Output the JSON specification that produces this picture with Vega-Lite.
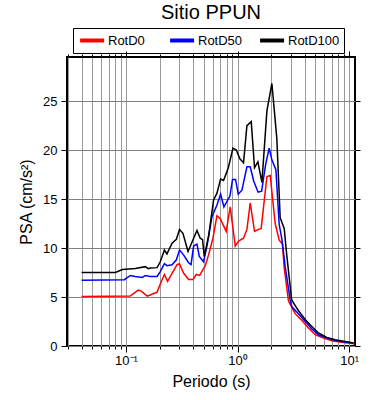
{
  "$schema": "https://vega.github.io/schema/vega-lite/v6.json",
  "autosize": "none",
  "padding": {"left": 67, "top": 57, "right": 35, "bottom": 54},
  "width": 288,
  "height": 289,
  "title": {"text": "Sitio PPUN", "fontSize": 20, "font": "Liberation Sans", "fontWeight": "normal", "anchor": "middle", "frame": "group", "baseline": "alphabetic", "offset": -11},
  "config": {
    "font": "Liberation Sans",
    "view": {"stroke": "#000000", "strokeWidth": 2},
    "axis": {"labelFont": "Liberation Sans", "titleFont": "Liberation Sans", "labelColor": "#000", "titleColor": "#000", "tickColor": "#000", "titleFontWeight": "normal"}
  },
  "data": {"values": [
    {"T":0.04,"PSA":5.05,"c":"RotD0"},{"T":0.109,"PSA":5.1,"c":"RotD0"},{"T":0.129,"PSA":5.7,"c":"RotD0"},{"T":0.137,"PSA":5.6,"c":"RotD0"},{"T":0.155,"PSA":5.1,"c":"RotD0"},{"T":0.165,"PSA":5.2,"c":"RotD0"},{"T":0.19,"PSA":5.5,"c":"RotD0"},{"T":0.206,"PSA":6.5,"c":"RotD0"},{"T":0.221,"PSA":7.3,"c":"RotD0"},{"T":0.236,"PSA":6.6,"c":"RotD0"},{"T":0.264,"PSA":7.6,"c":"RotD0"},{"T":0.287,"PSA":8.3,"c":"RotD0"},{"T":0.302,"PSA":8.4,"c":"RotD0"},{"T":0.328,"PSA":7.45,"c":"RotD0"},{"T":0.364,"PSA":6.8,"c":"RotD0"},{"T":0.399,"PSA":6.8,"c":"RotD0"},{"T":0.427,"PSA":7.3,"c":"RotD0"},{"T":0.457,"PSA":7.2,"c":"RotD0"},{"T":0.49,"PSA":7.8,"c":"RotD0"},{"T":0.514,"PSA":8.2,"c":"RotD0"},{"T":0.55,"PSA":9.3,"c":"RotD0"},{"T":0.602,"PSA":11.0,"c":"RotD0"},{"T":0.654,"PSA":13.3,"c":"RotD0"},{"T":0.7,"PSA":13.0,"c":"RotD0"},{"T":0.792,"PSA":11.7,"c":"RotD0"},{"T":0.86,"PSA":14.2,"c":"RotD0"},{"T":0.954,"PSA":10.2,"c":"RotD0"},{"T":1.021,"PSA":10.7,"c":"RotD0"},{"T":1.132,"PSA":11.0,"c":"RotD0"},{"T":1.214,"PSA":11.9,"c":"RotD0"},{"T":1.299,"PSA":14.6,"c":"RotD0"},{"T":1.42,"PSA":11.7,"c":"RotD0"},{"T":1.542,"PSA":11.9,"c":"RotD0"},{"T":1.63,"PSA":12.0,"c":"RotD0"},{"T":1.834,"PSA":17.3,"c":"RotD0"},{"T":1.963,"PSA":17.4,"c":"RotD0"},{"T":2.176,"PSA":12.5,"c":"RotD0"},{"T":2.363,"PSA":10.8,"c":"RotD0"},{"T":2.529,"PSA":10.4,"c":"RotD0"},{"T":2.62,"PSA":8.0,"c":"RotD0"},{"T":2.863,"PSA":4.6,"c":"RotD0"},{"T":3.287,"PSA":3.3,"c":"RotD0"},{"T":3.775,"PSA":2.6,"c":"RotD0"},{"T":4.324,"PSA":1.84,"c":"RotD0"},{"T":4.965,"PSA":1.15,"c":"RotD0"},{"T":5.892,"PSA":0.8,"c":"RotD0"},{"T":7.007,"PSA":0.54,"c":"RotD0"},{"T":8.614,"PSA":0.37,"c":"RotD0"},{"T":11.17,"PSA":0.23,"c":"RotD0"},
    {"T":0.04,"PSA":6.7,"c":"RotD50"},{"T":0.0968,"PSA":6.77,"c":"RotD50"},{"T":0.1094,"PSA":7.2,"c":"RotD50"},{"T":0.1213,"PSA":7.1,"c":"RotD50"},{"T":0.14,"PSA":7.0,"c":"RotD50"},{"T":0.149,"PSA":7.2,"c":"RotD50"},{"T":0.165,"PSA":7.1,"c":"RotD50"},{"T":0.19,"PSA":7.1,"c":"RotD50"},{"T":0.203,"PSA":7.6,"c":"RotD50"},{"T":0.221,"PSA":8.4,"c":"RotD50"},{"T":0.233,"PSA":8.2,"c":"RotD50"},{"T":0.259,"PSA":8.3,"c":"RotD50"},{"T":0.283,"PSA":8.8,"c":"RotD50"},{"T":0.302,"PSA":9.8,"c":"RotD50"},{"T":0.328,"PSA":9.3,"c":"RotD50"},{"T":0.364,"PSA":8.5,"c":"RotD50"},{"T":0.383,"PSA":8.3,"c":"RotD50"},{"T":0.404,"PSA":10.2,"c":"RotD50"},{"T":0.433,"PSA":10.4,"c":"RotD50"},{"T":0.454,"PSA":9.15,"c":"RotD50"},{"T":0.496,"PSA":8.6,"c":"RotD50"},{"T":0.532,"PSA":10.2,"c":"RotD50"},{"T":0.59,"PSA":13.2,"c":"RotD50"},{"T":0.654,"PSA":14.4,"c":"RotD50"},{"T":0.705,"PSA":15.5,"c":"RotD50"},{"T":0.755,"PSA":14.2,"c":"RotD50"},{"T":0.855,"PSA":15.3,"c":"RotD50"},{"T":0.902,"PSA":17.0,"c":"RotD50"},{"T":0.96,"PSA":17.0,"c":"RotD50"},{"T":1.015,"PSA":15.5,"c":"RotD50"},{"T":1.095,"PSA":15.9,"c":"RotD50"},{"T":1.214,"PSA":18.3,"c":"RotD50"},{"T":1.299,"PSA":18.3,"c":"RotD50"},{"T":1.4,"PSA":16.8,"c":"RotD50"},{"T":1.53,"PSA":15.7,"c":"RotD50"},{"T":1.645,"PSA":15.8,"c":"RotD50"},{"T":1.79,"PSA":18.6,"c":"RotD50"},{"T":1.922,"PSA":20.2,"c":"RotD50"},{"T":2.03,"PSA":19.0,"c":"RotD50"},{"T":2.208,"PSA":18.0,"c":"RotD50"},{"T":2.363,"PSA":12.4,"c":"RotD50"},{"T":2.498,"PSA":10.9,"c":"RotD50"},{"T":2.675,"PSA":8.1,"c":"RotD50"},{"T":2.965,"PSA":4.7,"c":"RotD50"},{"T":3.071,"PSA":4.0,"c":"RotD50"},{"T":3.461,"PSA":3.37,"c":"RotD50"},{"T":4.041,"PSA":2.5,"c":"RotD50"},{"T":4.639,"PSA":1.75,"c":"RotD50"},{"T":5.315,"PSA":1.15,"c":"RotD50"},{"T":6.318,"PSA":0.82,"c":"RotD50"},{"T":7.5,"PSA":0.57,"c":"RotD50"},{"T":9.218,"PSA":0.4,"c":"RotD50"},{"T":10.94,"PSA":0.3,"c":"RotD50"},
    {"T":0.04,"PSA":7.5,"c":"RotD100"},{"T":0.0803,"PSA":7.5,"c":"RotD100"},{"T":0.0929,"PSA":7.8,"c":"RotD100"},{"T":0.1213,"PSA":7.9,"c":"RotD100"},{"T":0.149,"PSA":8.1,"c":"RotD100"},{"T":0.1585,"PSA":7.9,"c":"RotD100"},{"T":0.165,"PSA":7.96,"c":"RotD100"},{"T":0.19,"PSA":8.0,"c":"RotD100"},{"T":0.203,"PSA":8.6,"c":"RotD100"},{"T":0.221,"PSA":9.8,"c":"RotD100"},{"T":0.233,"PSA":9.4,"c":"RotD100"},{"T":0.259,"PSA":10.5,"c":"RotD100"},{"T":0.283,"PSA":10.9,"c":"RotD100"},{"T":0.302,"PSA":11.9,"c":"RotD100"},{"T":0.324,"PSA":11.5,"c":"RotD100"},{"T":0.36,"PSA":9.65,"c":"RotD100"},{"T":0.399,"PSA":10.85,"c":"RotD100"},{"T":0.433,"PSA":11.8,"c":"RotD100"},{"T":0.463,"PSA":11.0,"c":"RotD100"},{"T":0.486,"PSA":10.85,"c":"RotD100"},{"T":0.503,"PSA":9.15,"c":"RotD100"},{"T":0.55,"PSA":11.2,"c":"RotD100"},{"T":0.61,"PSA":14.9,"c":"RotD100"},{"T":0.654,"PSA":15.6,"c":"RotD100"},{"T":0.705,"PSA":17.05,"c":"RotD100"},{"T":0.749,"PSA":16.9,"c":"RotD100"},{"T":0.81,"PSA":17.9,"c":"RotD100"},{"T":0.831,"PSA":18.3,"c":"RotD100"},{"T":0.91,"PSA":20.2,"c":"RotD100"},{"T":0.975,"PSA":20.0,"c":"RotD100"},{"T":1.05,"PSA":19.1,"c":"RotD100"},{"T":1.132,"PSA":18.7,"c":"RotD100"},{"T":1.214,"PSA":22.5,"c":"RotD100"},{"T":1.327,"PSA":22.9,"c":"RotD100"},{"T":1.42,"PSA":18.2,"c":"RotD100"},{"T":1.523,"PSA":18.8,"c":"RotD100"},{"T":1.654,"PSA":16.7,"c":"RotD100"},{"T":1.834,"PSA":24.0,"c":"RotD100"},{"T":2.033,"PSA":26.8,"c":"RotD100"},{"T":2.25,"PSA":21.2,"c":"RotD100"},{"T":2.412,"PSA":13.1,"c":"RotD100"},{"T":2.62,"PSA":12.0,"c":"RotD100"},{"T":2.77,"PSA":9.15,"c":"RotD100"},{"T":3.058,"PSA":4.7,"c":"RotD100"},{"T":3.174,"PSA":4.4,"c":"RotD100"},{"T":3.519,"PSA":3.6,"c":"RotD100"},{"T":4.041,"PSA":2.7,"c":"RotD100"},{"T":4.639,"PSA":2.0,"c":"RotD100"},{"T":5.315,"PSA":1.33,"c":"RotD100"},{"T":6.318,"PSA":0.88,"c":"RotD100"},{"T":7.5,"PSA":0.64,"c":"RotD100"},{"T":9.218,"PSA":0.47,"c":"RotD100"},{"T":10.94,"PSA":0.3,"c":"RotD100"}
  ]},
  "layer": [
    {
      "mark": {"type": "line", "strokeWidth": 1.5, "clip": true},
      "encoding": {
        "x": {"field": "T", "type": "quantitative",
          "scale": {"type": "log", "domain": [0.0296, 11.3], "nice": false, "zero": false},
          "axis": {"orient": "bottom", "title": "Periodo (s)", "titleFontSize": 16, "titlePadding": 6,
            "values": [0.03,0.04,0.05,0.06,0.07,0.08,0.09,0.1,0.2,0.3,0.4,0.5,0.6,0.7,0.8,0.9,1,2,3,4,5,6,7,8,9,10],
            "labelExpr": "datum.value == 0.1 ? '10⁻¹' : datum.value == 1 ? '10⁰' : datum.value == 10 ? '10¹' : ''",
            "labelOverlap": false, "labelFlush": false, "labelBound": false, "labelFontSize": 13, "labelPadding": 2,
            "tickSize": {"condition": {"test": "datum.value == 0.1 || datum.value == 1 || datum.value == 10", "value": 6}, "value": 3},
            "domain": false, "grid": true, "gridColor": "#999999", "gridWidth": 1, "gridOpacity": 1}},
        "y": {"field": "PSA", "type": "quantitative",
          "scale": {"domain": [0, 29.5], "nice": false},
          "axis": {"orient": "left", "title": "PSA (cm/s²)", "titleFontSize": 16, "values": [0,5,10,15,20,25],
            "labelFontSize": 13, "tickSize": 6, "labelPadding": 4, "titlePadding": 8, "domain": false,
            "grid": true, "gridColor": "#808080", "gridWidth": 1, "gridOpacity": 1}},
        "color": {"field": "c", "type": "nominal",
          "scale": {"domain": ["RotD0", "RotD50", "RotD100"], "range": ["#ff0000", "#0000ff", "#000000"]},
          "legend": {"orient": "none", "legendX": 6, "legendY": -29, "direction": "horizontal", "columns": 3, "title": null,
            "strokeColor": "#000000", "padding": 4.5, "labelFontSize": 13, "labelFont": "Liberation Sans", "labelColor": "#000",
            "symbolType": "M-0.9,0H3.1", "symbolSize": 144, "symbolStrokeWidth": 4, "labelOffset": 14.5, "columnPadding": 2, "gridAlign": "all"}}
      }
    },
    {
      "mark": {"type": "line", "strokeOpacity": 0, "clip": true},
      "encoding": {
        "x": {"field": "T", "type": "quantitative",
          "axis": {"orient": "top", "title": null, "labels": false, "grid": false, "domain": false,
            "values": [0.03,0.04,0.05,0.06,0.07,0.08,0.09,0.1,0.2,0.3,0.4,0.5,0.6,0.7,0.8,0.9,1,2,3,4,5,6,7,8,9,10],
            "tickSize": {"condition": {"test": "datum.value == 0.1 || datum.value == 1 || datum.value == 10", "value": 6}, "value": 3}}},
        "y": {"field": "PSA", "type": "quantitative",
          "axis": {"orient": "right", "title": null, "labels": false, "grid": false, "domain": false, "values": [0,5,10,15,20,25], "tickSize": 5}},
        "detail": {"field": "c", "type": "nominal"}
      }
    }
  ],
  "resolve": {"axis": {"x": "independent", "y": "independent"}}
}
